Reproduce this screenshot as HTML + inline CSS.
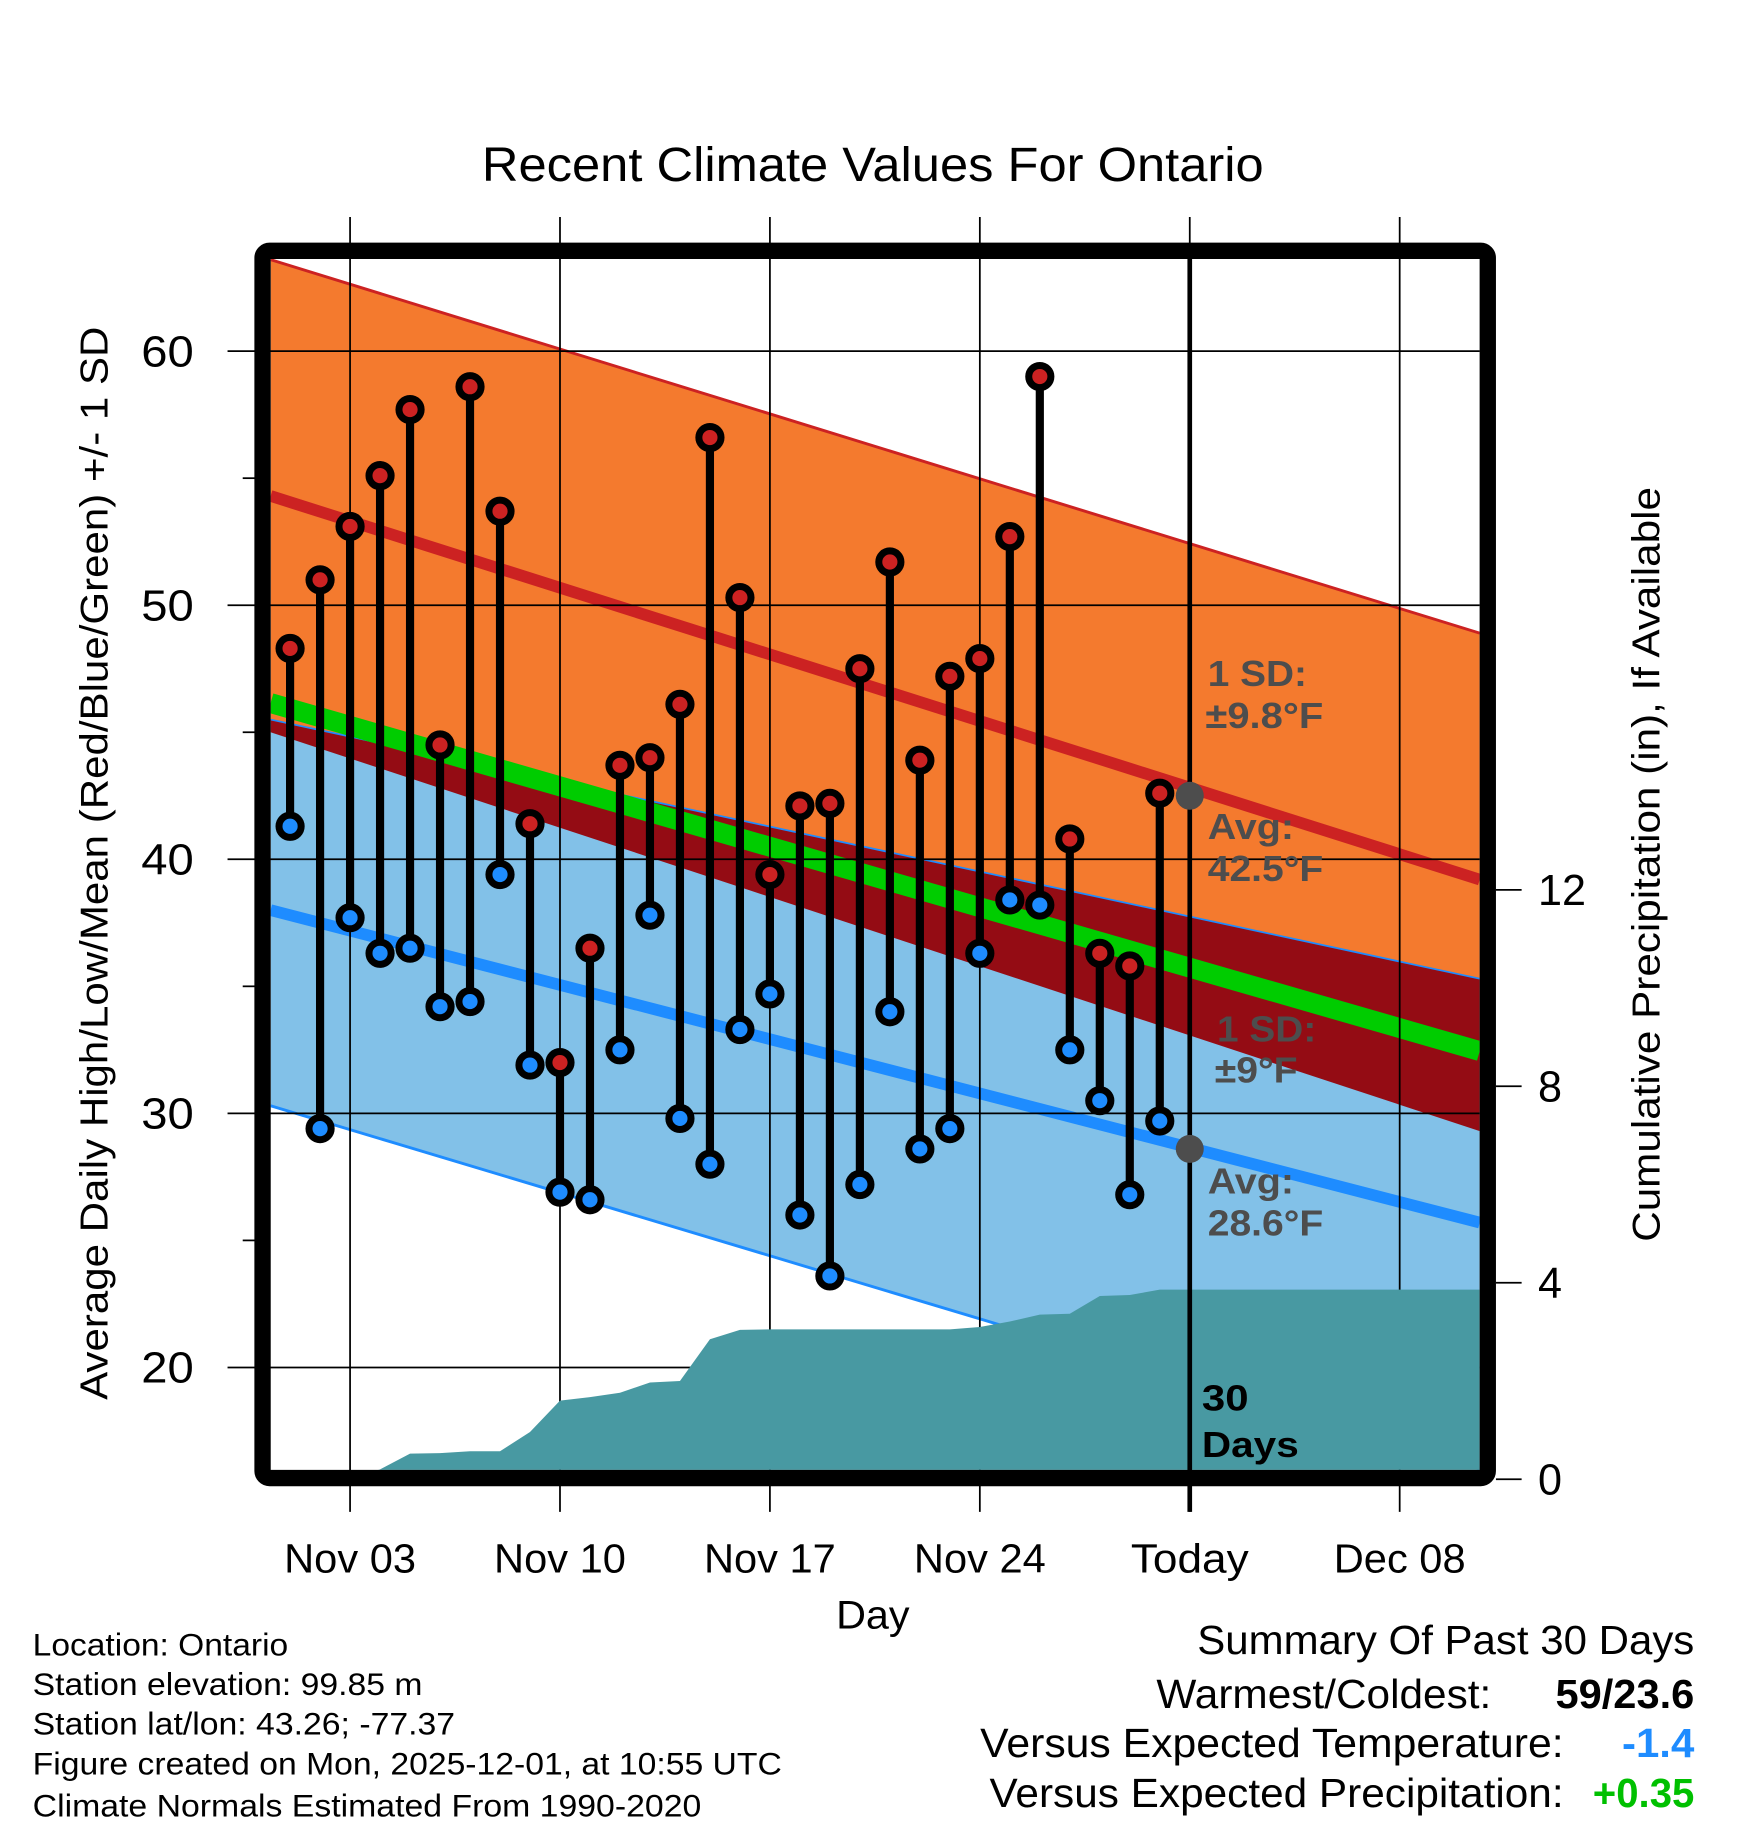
<!DOCTYPE html>
<html><head><meta charset="utf-8"><style>
html,body{margin:0;padding:0;background:#fff;}
svg{display:block;font-family:"Liberation Sans",sans-serif;}
</style></head><body>
<svg id="chart" width="1748" height="1828" viewBox="0 0 1498 1567" preserveAspectRatio="none" xmlns="http://www.w3.org/2000/svg">
<defs><clipPath id="plotclip"><rect x="232" y="222" width="1036" height="1038"/></clipPath></defs>
<rect width="1498" height="1567" fill="#fff"/>
<g id="fills" clip-path="url(#plotclip)"></g>
<g id="grid"></g>
<g id="precip" clip-path="url(#plotclip)"></g>
<g id="marks"></g>
<g id="axes"></g>
<text x="748" y="155" text-anchor="middle" font-size="41" textLength="670" lengthAdjust="spacingAndGlyphs">Recent Climate Values For Ontario</text>
<text transform="translate(92,740) rotate(-90)" text-anchor="middle" font-size="33" textLength="920" lengthAdjust="spacingAndGlyphs">Average Daily High/Low/Mean (Red/Blue/Green) +/- 1 SD</text>
<text transform="translate(1422,741) rotate(-90)" text-anchor="middle" font-size="33" textLength="647" lengthAdjust="spacingAndGlyphs">Cumulative Precipitation (in), If Available</text>
<text x="748" y="1396" text-anchor="middle" font-size="34" textLength="63" lengthAdjust="spacingAndGlyphs">Day</text>
<g font-size="27">
<text x="28" y="1419" textLength="219" lengthAdjust="spacingAndGlyphs">Location: Ontario</text>
<text x="28" y="1453" textLength="334" lengthAdjust="spacingAndGlyphs">Station elevation: 99.85 m</text>
<text x="28" y="1487" textLength="362" lengthAdjust="spacingAndGlyphs">Station lat/lon: 43.26; -77.37</text>
<text x="28" y="1521" textLength="642" lengthAdjust="spacingAndGlyphs">Figure created on Mon, 2025-12-01, at 10:55 UTC</text>
<text x="28" y="1557" textLength="573" lengthAdjust="spacingAndGlyphs">Climate Normals Estimated From 1990-2020</text>
</g>
<g font-size="35">
<text x="1452" y="1418" text-anchor="end" textLength="426" lengthAdjust="spacingAndGlyphs">Summary Of Past 30 Days</text>
<text x="1278" y="1464" text-anchor="end" textLength="287" lengthAdjust="spacingAndGlyphs">Warmest/Coldest:</text>
<text x="1452" y="1464" text-anchor="end" font-weight="bold" textLength="119" lengthAdjust="spacingAndGlyphs">59/23.6</text>
<text x="1340" y="1506" text-anchor="end" textLength="500" lengthAdjust="spacingAndGlyphs">Versus Expected Temperature:</text>
<text x="1452" y="1506" text-anchor="end" font-weight="bold" fill="#1E8CFF" textLength="62" lengthAdjust="spacingAndGlyphs">-1.4</text>
<text x="1340" y="1549" text-anchor="end" textLength="492" lengthAdjust="spacingAndGlyphs">Versus Expected Precipitation:</text>
<text x="1452" y="1549" text-anchor="end" font-weight="bold" fill="#00C000" textLength="87" lengthAdjust="spacingAndGlyphs">+0.35</text>
</g>
</svg>
<script>
const highs=[48.3,51.0,53.1,55.1,57.7,44.5,58.6,53.7,41.4,32.0,36.5,43.7,44.0,46.1,56.6,50.3,39.4,42.1,42.2,47.5,51.7,43.9,47.2,47.9,52.7,59.0,40.8,36.3,35.8,42.6];
const lows=[41.3,29.4,37.7,36.3,36.5,34.2,34.4,39.4,31.9,26.9,26.6,32.5,37.8,29.8,28.0,33.3,34.7,26.0,23.6,27.2,34.0,28.6,29.4,36.3,38.4,38.2,32.5,30.5,26.8,29.7];
const precip=[0,0,0,0.2,0.52,0.53,0.57,0.57,0.96,1.6,1.67,1.76,1.97,2.0,2.85,3.04,3.05,3.05,3.05,3.05,3.05,3.05,3.05,3.1,3.21,3.35,3.37,3.73,3.75,3.86];
const normalDays=[-0.65,39.67];
const highUpper=[63.6,48.9];
const highAvg=[54.3,39.2];
const highLower=[45.0,29.3];
const meanAvg=[46.15,32.45];
const lowUpper=[45.5,35.3];
const lowAvg=[38.0,25.7];
const lowLower=[30.3,16.0];
const xTickDays=[2,9,16,23,30,37];
const xTickLabels=["Nov 03","Nov 10","Nov 17","Nov 24","Today","Dec 08"];
const yTicks=[20,30,40,50,60];
const yMinor=[25,35,45,55];
const pTicks=[0,4,8,12];
const todayDay=30;

const NS="http://www.w3.org/2000/svg";
const X=d=>248.6+25.7*d;
const Y=v=>301+(60-v)*21.78;
const P=p=>1268-42.1*p;
function mk(tag,parent,attrs){const e=document.createElementNS(NS,tag);for(const k in attrs)e.setAttribute(k,attrs[k]);parent.appendChild(e);return e;}
const fills=document.getElementById('fills'),grid=document.getElementById('grid'),pg=document.getElementById('precip'),marks=document.getElementById('marks'),axes=document.getElementById('axes');
function band(top,bot,color,name){
  const pts=[[X(normalDays[0]),Y(top[0])],[X(normalDays[1]),Y(top[1])],[X(normalDays[1]),Y(bot[1])],[X(normalDays[0]),Y(bot[0])]];
  const e=mk('polygon',fills,{points:pts.map(p=>p.join(',')).join(' '),fill:color});
  
  
}
function line(vals,color,w,name){
  const e=mk('line',fills,{x1:X(normalDays[0]),y1:Y(vals[0]),x2:X(normalDays[1]),y2:Y(vals[1]),stroke:color,'stroke-width':w});
  
  
}
band(highUpper,highLower,'#F47A2E','high-sd-band');
band(lowUpper,lowLower,'#82C1E8','low-sd-band');
band(lowUpper,highLower,'#940C14','overlap-band');
line(highUpper,'#CC2222',2.5,'high-upper-line');
line(lowLower,'#1E8CFF',2.5,'low-lower-line');
line(lowUpper,'#1E8CFF',1.5,'low-upper-line');
line(highAvg,'#CC2222',10,'avg-high-line');
line(lowAvg,'#1E8CFF',10,'avg-low-line');
line(meanAvg,'#00CC00',17,'avg-mean-line');
yTicks.forEach(v=>{
  const e=mk('line',grid,{x1:195,x2:1268,y1:Y(v),y2:Y(v),stroke:'#000','stroke-width':1.5});
  
  
  const t=mk('text',axes,{x:166,y:Y(v)+13,'text-anchor':'end','font-size':37,textLength:45,lengthAdjust:'spacingAndGlyphs'});
  t.textContent=v;
  
  
});
yMinor.forEach(v=>{
  const e=mk('line',grid,{x1:208,x2:220,y1:Y(v),y2:Y(v),stroke:'#000','stroke-width':1.5});
  
  
});
xTickDays.forEach((d,i)=>{
  const e=mk('line',grid,{x1:X(d),x2:X(d),y1:186,y2:1296,stroke:'#000','stroke-width':1.5});
  
  
  const t=mk('text',axes,{x:X(d),y:1348,'text-anchor':'middle','font-size':35,textLength:(xTickLabels[i]==='Today'?101:113),lengthAdjust:'spacingAndGlyphs'});
  t.textContent=xTickLabels[i];
  
  
});
pTicks.forEach(p=>{
  const e=mk('line',axes,{x1:1282,x2:1304,y1:P(p),y2:P(p),stroke:'#000','stroke-width':1.5});
  
  
  const t=mk('text',axes,{x:1318,y:P(p)+13,'font-size':37});
  t.textContent=p;
  
  
});
{
  let pts=[[232,1268],[232,P(precip[0])]];
  precip.forEach((p,i)=>pts.push([X(i),P(p)]));
  pts.push([1268,P(precip[precip.length-1])],[1268,1268]);
  const e=mk('polygon',pg,{points:pts.map(p=>p.join(',')).join(' '),fill:'#4899A2'});
  
  
}
const ann=[[1035,588,'1 SD:','#4D4D4D',85],[1033,624,'±9.8°F','#4D4D4D',101],[1035,719,'Avg:','#4D4D4D',74],[1035,755,'42.5°F','#4D4D4D',99],[1043,893,'1 SD:','#4D4D4D',85],[1041,928,'±9°F','#4D4D4D',71],[1035,1023,'Avg:','#4D4D4D',74],[1035,1059,'28.6°F','#4D4D4D',99],[1030,1209,'30','#000',40],[1030,1249,'Days','#000',83]];
ann.forEach(a=>{
  const t=mk('text',marks,{x:a[0],y:a[1],'font-size':31,'font-weight':'bold',fill:a[3],textLength:a[4],lengthAdjust:'spacingAndGlyphs'});
  t.textContent=a[2];
  
  
});
{
  const e=mk('line',marks,{x1:X(todayDay),x2:X(todayDay),y1:222,y2:1296,stroke:'#000','stroke-width':4});
  
  
}
highs.forEach((h,i)=>{
  const s=mk('line',marks,{x1:X(i),x2:X(i),y1:Y(h),y2:Y(lows[i]),stroke:'#000','stroke-width':7});
  
  
  const c1=mk('circle',marks,{cx:X(i),cy:Y(h),r:9.5,fill:'#CC2222',stroke:'#000','stroke-width':6});
  
  
  const c2=mk('circle',marks,{cx:X(i),cy:Y(lows[i]),r:9.5,fill:'#1E8CFF',stroke:'#000','stroke-width':6});
  
  
});
{
  const d1=mk('circle',marks,{cx:X(todayDay),cy:Y(42.5),r:12,fill:'#4D4D4D'});
  
  
  const d2=mk('circle',marks,{cx:X(todayDay),cy:Y(28.6),r:12,fill:'#4D4D4D'});
  
  
  const f=mk('rect',marks,{x:225,y:215,width:1050,height:1052,rx:6,fill:'none',stroke:'#000','stroke-width':14});
  
  
}
</script>
</body></html>
